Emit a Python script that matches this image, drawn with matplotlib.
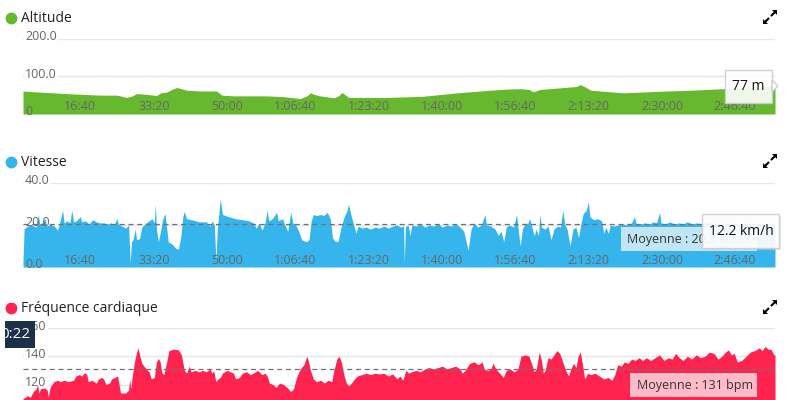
import matplotlib
matplotlib.use("Agg")
import matplotlib.pyplot as plt
import matplotlib.transforms as mtransforms
from matplotlib.patches import Rectangle, Polygon
from matplotlib.lines import Line2D

plt.rcParams['font.family'] = ['Open Sans', 'DejaVu Sans']

# %% data (time in seconds)
alt_t = [0, 140, 590, 1050, 1280, 1410, 1480, 1550, 1690, 1820, 1880, 1960,
         2050, 2100, 2140, 2230, 2410, 2640, 2710, 2870, 3320, 3550, 3780,
         3870, 3920, 3970, 4050, 4240, 4300, 4350, 4400, 4440, 4690, 5000,
         5150, 5460, 5920, 6370, 6600, 6780, 6900, 6960, 7050, 7370, 7550,
         7600, 7680, 7740, 8190, 8650, 9100, 9550, 9900, 10230, 10255]
alt_v = [61, 59, 54, 50, 50, 44, 47, 54, 52, 49, 56, 58,
         67, 70, 68, 63, 61, 61, 50, 48, 48, 46, 41,
         48, 56, 52, 48, 43, 48, 57, 50, 44, 44, 44,
         45, 47, 56, 63, 66, 67, 65, 59, 65, 70, 73,
         78, 70, 63, 56, 60, 63, 67, 70, 75, 77]

spd_t = [0, 15, 60, 120, 180, 210, 230, 300, 320, 380, 440, 470, 500, 540,
         560, 600, 640, 665, 690, 730, 780, 800, 850, 900, 950, 1000, 1050,
         1100, 1150, 1200, 1240, 1280, 1300, 1350, 1400, 1440, 1462, 1480,
         1500, 1530, 1550, 1590, 1620, 1680, 1720, 1760, 1790, 1805, 1820,
         1845, 1870, 1900, 1935, 1955, 1980, 2030, 2080, 2120, 2150, 2180,
         2200, 2230, 2300, 2350, 2400, 2450, 2500, 2550, 2580, 2610, 2630,
         2650, 2690, 2720, 2800, 2900, 3000, 3080, 3140, 3180, 3220, 3260,
         3300, 3330, 3350, 3400, 3460, 3480, 3540, 3570, 3610, 3650, 3680,
         3720, 3760, 3800, 3860, 3900, 3930, 3960, 4000, 4060, 4100, 4150,
         4190, 4220, 4260, 4300, 4330, 4380, 4420, 4440, 4470, 4510, 4540,
         4570, 4620, 4680, 4740, 4800, 4860, 4920, 4980, 5040, 5100, 5150,
         5190, 5200, 5215, 5250, 5280, 5300, 5360, 5420, 5480, 5540, 5600,
         5660, 5720, 5780, 5840, 5900, 5960, 6010, 6070, 6110, 6150, 6200,
         6250, 6300, 6320, 6380, 6440, 6480, 6520, 6555, 6590, 6630, 6690,
         6730, 6750, 6780, 6810, 6850, 6880, 6910, 6940, 6970, 7000, 7030,
         7050, 7070, 7120, 7160, 7200, 7240, 7290, 7330, 7360, 7390, 7420,
         7460, 7500, 7540, 7575, 7610, 7640, 7680, 7710, 7730, 7780, 7840,
         7890, 7920, 7950, 7980, 8010, 8060, 8120, 8180, 8240, 8300, 8340,
         8360, 8420, 8480, 8540, 8600, 8640, 8680, 8700, 8760, 8820, 8880,
         8940, 9000, 9060, 9120, 9180, 9250, 9320, 9400, 9480, 9560, 9640,
         9720, 9800, 9880, 9960, 10040, 10120, 10200, 10255]
spd_v = [3, 18, 19.5, 20, 19, 25, 19.5, 23, 19.5, 20.5, 19, 17.5, 21, 27,
         21, 22, 21, 27, 21.5, 22, 24, 21.5, 22, 20.5, 22.5, 21.5, 21,
         21, 20.5, 21, 20, 23, 20.5, 19.5, 18.5, 20, 2, 12,
         13, 18, 13, 13.5, 19, 21, 22, 23, 21, 30, 18,
         12, 16, 22, 25.5, 20, 12, 11, 9, 8.5, 14, 24,
         26.5, 23, 22.5, 22, 21.5, 21.5, 21.5, 19.5, 22, 20, 3,
         18, 32.5, 25, 24, 23, 22.5, 22, 21, 18.5, 21, 17.5,
         21, 27, 22, 23, 26, 22, 23, 20, 17, 26, 21,
         20, 17, 13, 12, 13, 22, 25, 24.5, 25, 24.5, 26,
         23, 14, 12, 12.5, 18, 24, 27, 30, 25, 20, 16,
         19.5, 18.5, 19, 18, 19, 18.5, 19.5, 18.5, 19.5, 20, 19,
         19.5, 2, 19, 20, 15, 20, 19.5, 20.5, 19, 20, 19.5,
         20.5, 19, 20, 19.5, 20.5, 19, 17, 8, 18, 21, 19,
         20, 25, 20, 19.5, 18, 15, 17, 12, 19, 20, 19,
         25, 19, 10, 18, 21, 20.5, 23, 19, 15, 18, 15,
         25, 19, 18, 19.5, 13, 18, 19.5, 19, 27, 20, 18,
         10, 18, 19, 14, 21, 25.5, 27, 31, 24, 22.5, 23,
         22, 16, 19, 16, 20, 19.5, 20, 20.5, 20, 21, 24,
         20.5, 20.5, 21, 20.5, 21.5, 21, 26, 21, 20.5, 21.5, 20.5,
         21, 20.5, 21.5, 20.5, 21, 20.5, 21.5, 20.5, 21, 20, 21,
         20.5, 20.5, 21, 20, 20.5, 20.5, 20, 20.5]
spd_avg = 20.3

hr_t = [0, 60, 100, 140, 180, 200, 215, 240, 300, 330, 345, 370, 420, 470,
        505, 560, 620, 690, 720, 770, 800, 840, 870, 890, 940, 1000, 1030,
        1070, 1100, 1130, 1180, 1210, 1250, 1290, 1310, 1330, 1400, 1440,
        1455, 1470, 1490, 1520, 1550, 1570, 1590, 1620, 1680, 1720, 1750,
        1790, 1820, 1845, 1870, 1895, 1920, 1960, 1990, 2050, 2120, 2160,
        2200, 2230, 2265, 2290, 2350, 2400, 2450, 2500, 2550, 2580, 2600,
        2630, 2660, 2690, 2720, 2780, 2830, 2870, 2900, 2950, 2990, 3050,
        3100, 3140, 3200, 3260, 3300, 3330, 3360, 3410, 3450, 3500, 3550,
        3600, 3650, 3690, 3730, 3780, 3830, 3870, 3890, 3920, 3960, 4000,
        4060, 4110, 4160, 4210, 4240, 4280, 4310, 4340, 4380, 4410, 4440,
        4480, 4520, 4560, 4620, 4680, 4740, 4800, 4860, 4920, 4980, 5040,
        5100, 5140, 5180, 5220, 5260, 5300, 5360, 5420, 5480, 5540, 5600,
        5660, 5720, 5780, 5840, 5900, 5960, 5990, 6030, 6090, 6150, 6210,
        6260, 6290, 6340, 6380, 6410, 6450, 6500, 6550, 6590, 6640, 6700,
        6750, 6790, 6850, 6900, 6940, 6970, 7000, 7040, 7070, 7095, 7120,
        7160, 7200, 7240, 7280, 7320, 7360, 7400, 7440, 7470, 7510, 7540,
        7570, 7600, 7630, 7660, 7700, 7740, 7800, 7860, 7920, 7980, 8030,
        8070, 8110, 8160, 8200, 8250, 8300, 8350, 8400, 8450, 8500, 8560,
        8620, 8680, 8740, 8800, 8850, 8900, 8950, 9000, 9060, 9120, 9180,
        9240, 9300, 9360, 9420, 9480, 9530, 9580, 9620, 9660, 9700, 9740,
        9800, 9860, 9920, 9980, 10040, 10080, 10120, 10160, 10200, 10240,
        10255]
hr_v = [110, 112, 111, 115, 117, 120, 114, 117, 117.5, 116, 111, 118, 122, 123,
        122, 123, 122, 123, 126, 127, 126, 128.5, 127, 122, 123, 121, 124,
        125, 124, 120, 121, 124, 125, 126, 120, 114, 114, 116,
        124, 117, 126, 136, 143, 146, 141, 135, 131, 129, 124,
        125, 136, 138.5, 136, 128, 127, 136, 144, 145, 144.5, 141,
        130, 128, 133, 129, 130, 129, 130, 129, 131, 128, 130,
        122, 124, 125, 128, 130, 129, 128, 124, 125, 128, 129,
        127, 128, 130, 127, 128, 126, 121, 120, 118, 121, 120,
        118, 115, 117, 125, 131, 134, 140, 137, 130, 124, 122,
        123, 121, 123, 122, 130, 138, 140, 136, 126, 121, 119,
        121, 124, 126, 127, 128, 127, 128, 127.5, 128, 126, 127.5,
        124, 126, 123, 130, 128, 129, 130, 129, 131, 132, 131,
        132, 133, 131, 132, 133, 131, 128, 130, 135, 136, 134,
        136, 131, 130, 131, 135, 131, 128, 125, 130, 131, 129,
        131, 140, 141, 140, 134, 129, 131, 143, 137, 128, 130,
        139, 138, 141, 144, 142, 136, 130, 126, 131, 135, 132,
        140, 143, 134, 124, 128, 127, 128, 126, 124, 125, 123,
        127, 134, 133, 136, 135, 138, 137, 139, 137, 139, 137,
        139, 141, 137, 139, 138, 142, 139, 137, 140, 138, 141,
        139, 140, 143, 142, 138, 140, 143, 144.5, 141, 142, 136,
        137, 140, 143, 144, 146, 144, 147, 145, 145, 141,
        141]
hr_avg = 131

tick_secs = [1000, 2000, 3000, 4000, 5000, 6000, 7000, 8000, 9000, 10000]
tick_labels = ["16:40", "33:20", "50:00", "1:06:40", "1:23:20", "1:40:00",
               "1:56:40", "2:13:20", "2:30:00", "2:46:40"]

t_end = 10255
W, H = 791, 400


def fx(x):
    return x / W


def fy(y):
    return 1 - y / H


fig = plt.figure(figsize=(W / 100, H / 100), dpi=100)


def offset(dx, dy):
    return mtransforms.ScaledTranslation(dx / 100, dy / 100, fig.dpi_scale_trans)


def expand_icon(cx, cy):
    # two small diagonal arrows pointing outward
    for sx, sy in [(-1, 1), (1, -1)]:
        fig.add_artist(Line2D([fx(cx + sx * 1), fx(cx + sx * 5)],
                              [fy(cy + sy * 1), fy(cy + sy * 5)],
                              lw=1.5, color='black', transform=fig.transFigure,
                              solid_capstyle='butt'))
        tip = (cx + sx * 7, cy + sy * 7)
        head = [tip, (tip[0] - sx * 5, tip[1]), (tip[0], tip[1] - sy * 5)]
        fig.add_artist(Polygon([(fx(a), fy(b)) for a, b in head], closed=True,
                               transform=fig.transFigure, fc='black',
                               ec='none'))


def panel(top_px, bottom_px, ylim, t, v, color, yticks, ylabels, grid, title,
          title_py, avg=None, xlabels=True, label_z=5):
    ax = fig.add_axes([fx(23), fy(bottom_px), fx(775) - fx(23),
                       (bottom_px - top_px) / H])
    ax.set_xlim(0, t_end)
    ax.set_ylim(*ylim)
    ax.axis('off')
    ax.fill_between(t, v, ylim[0], color=color, lw=0, zorder=2)
    for g in grid:
        ax.axhline(g, color='#e6e6e6', lw=1, zorder=1)
    if avg is not None:
        ax.axhline(avg, color='#707070', lw=0.9, ls=(0, (4, 3)), zorder=3)
    ytr = mtransforms.blended_transform_factory(ax.transAxes, ax.transData)
    for yv, lab in zip(yticks, ylabels):
        kw = dict(ha='left', va='baseline', fontsize=9,
                  transform=ytr + offset(2, -1.5), clip_on=False)
        ax.text(0, yv, lab, color='white', zorder=1.6,
                bbox=dict(fc='white', ec='none', pad=1), **kw)
        t_lab = ax.text(0, yv, lab, color='#666666', zorder=5, **kw)
    if xlabels:
        xtr = mtransforms.blended_transform_factory(ax.transData, ax.transAxes)
        for ts, lab in zip(tick_secs, tick_labels):
            ax.text(ts, 0, lab, ha='right', va='baseline', fontsize=9,
                    color='#666666', transform=xtr + offset(0, 3.5), zorder=5)
    # title with coloured dot
    fig.add_artist(Line2D([fx(11)], [fy(title_py)], marker='o', ms=7.5,
                          color=color, transform=fig.transFigure))
    fig.text(fx(21), fy(title_py), title, fontsize=10, color='#222222',
             va='center', ha='left')
    expand_icon(770, title_py - 1)
    return ax


panel(38.5, 114, (0, 200), alt_t, alt_v, '#66b82e', [0, 100, 200],
      ['0', '100.0', '200.0'], [100, 200], 'Altitude', 18)
panel(183, 267, (0, 40), spd_t, spd_v, '#35b5ec', [0, 20, 40],
      ['0.0', '20.0', '40.0'], [20, 40], 'Vitesse', 162, avg=spd_avg)
panel(328, 412.75, (100, 160), hr_t, hr_v, '#ff2450', [120, 140, 160],
      ['120', '140', '160'], [120, 140, 160], 'Fréquence cardiaque', 308,
      avg=hr_avg, xlabels=False)


def box(x0, y0, x1, y1, fc, ec='none', alpha=1.0, z=10):
    r = Rectangle((fx(x0), fy(y1)), fx(x1) - fx(x0), (y1 - y0) / H,
                  transform=fig.transFigure, fc=fc, ec=ec, lw=1, alpha=alpha,
                  zorder=z)
    fig.add_artist(r)
    return r


# moyenne labels
box(621, 227, 757, 251, '#c0e6f3', z=10)
fig.text(fx(627), fy(239), 'Moyenne : %.1f km/h' % spd_avg, fontsize=9,
         color='#333333', va='center', zorder=11)
box(630, 373, 757, 397, '#ffbcc7', z=10)
fig.text(fx(637), fy(385), 'Moyenne : %d bpm' % hr_avg, fontsize=9,
         color='#333333', va='center', zorder=11)

# tooltips
box(704, 216, 781, 250, '#d0d0d0', alpha=0.5, z=12)
box(702, 214, 779, 248, 'white', ec='#cccccc', alpha=0.88, z=13)
fig.text(fx(741), fy(231.5), '12.2 km/h', fontsize=10, color='#111111',
         ha='center', va='center', zorder=14)

box(725, 70, 772, 103, 'white', ec='#cccccc', alpha=0.9, z=13)
fig.add_artist(Polygon([(fx(772), fy(80)), (fx(778), fy(86)), (fx(772), fy(92))],
                       closed=True, transform=fig.transFigure, fc='white',
                       ec='#cccccc', lw=1, zorder=13))
fig.text(fx(748), fy(87), '77 m', fontsize=10, color='#111111', ha='center',
         va='center', zorder=14)

# dark crosshair label (text partly cut at the left edge)
dark = box(5, 321, 35, 348, '#1c3049', z=15)
lbl = fig.text(fx(30), fy(334.5), '0:22', fontsize=11, color='white',
               ha='right', va='center', zorder=16)
lbl.set_clip_path(dark)

fig.savefig('out.png', dpi=100)
